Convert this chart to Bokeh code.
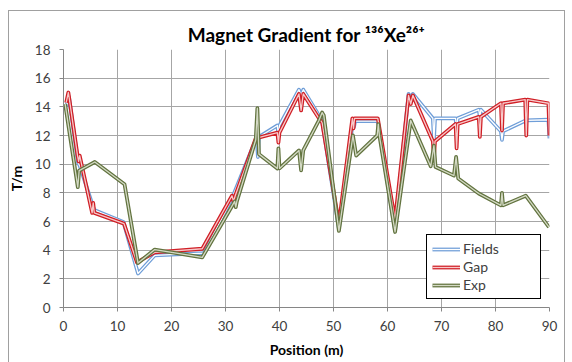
from bokeh.plotting import figure
from bokeh.models import Range1d, FixedTicker, Legend, LegendItem, InlineStyleSheet
from bokeh.embed import file_html
from bokeh.resources import INLINE

# ---- data ----
fields_x = [0.5, 1.0, 2.7, 3.0, 5.5, 5.7, 11.1, 13.8, 16.9, 26.0, 31.2, 35.8, 36.0, 36.2,
            39.6, 39.8, 40.0, 43.6, 44.0, 44.4, 47.3, 47.9, 51.0, 53.6, 53.8, 54.0, 58.2,
            61.4, 63.9, 64.3, 64.7, 68.4, 68.6, 68.8, 72.6, 72.8, 73.0, 76.9, 77.1, 77.3,
            81.0, 81.2, 81.4, 85.6, 89.8, 90.0]
fields_y = [14.0, 14.7, 10.1, 9.9, 7.0, 6.8, 5.97, 2.37, 3.64, 3.8, 7.6, 11.9, 10.5, 11.9,
            12.7, 12.0, 12.7, 15.2, 14.8, 15.2, 13.4, 13.0, 5.5, 13.0, 12.6, 13.0, 13.0,
            5.4, 14.9, 14.6, 14.9, 13.2, 11.7, 13.2, 13.2, 12.4, 13.2, 13.8, 13.3, 13.8,
            12.3, 11.7, 12.3, 13.05, 13.1, 11.8]

gap_x = [0.5, 0.9, 1.1, 2.6, 2.8, 3.0, 5.3, 5.5, 5.7, 11.2, 13.6, 16.9, 25.7, 31.2, 31.5,
         31.8, 35.6, 39.6, 39.8, 40.0, 43.6, 44.0, 44.4, 47.3, 47.9, 51.0, 53.5, 53.7,
         53.9, 58.2, 61.4, 63.9, 64.3, 64.7, 68.4, 68.6, 68.8, 72.6, 72.8, 73.0, 76.9,
         77.1, 77.3, 81.0, 81.2, 81.4, 85.5, 85.7, 85.9, 89.8, 90.0]
gap_y = [14.3, 15.0, 14.5, 10.6, 10.2, 10.6, 6.6, 7.3, 6.6, 5.85, 3.15, 3.85, 4.1, 7.8, 7.4,
         7.8, 11.8, 12.2, 11.5, 12.2, 14.9, 13.75, 14.9, 13.2, 12.9, 5.85, 13.2, 12.5,
         13.2, 13.2, 6.1, 14.8, 14.2, 14.8, 11.6, 10.5, 11.6, 12.8, 11.1, 12.8, 13.3,
         11.9, 13.3, 14.25, 12.35, 14.25, 14.5, 12.0, 14.5, 14.25, 12.0]

exp_x = [0.3, 2.65, 2.9, 5.8, 11.3, 13.8, 16.9, 25.7, 31.7, 31.9, 32.1, 35.6, 35.9, 36.2,
         39.6, 39.8, 40.0, 43.6, 44.0, 44.4, 47.3, 47.9, 48.2, 51.0, 53.6, 54.2, 58.1,
         58.3, 58.5, 61.4, 64.3, 68.0, 68.6, 68.9, 72.3, 72.7, 73.1, 76.9, 81.0, 81.2,
         81.4, 85.6, 89.9]
exp_y = [14.2, 8.4, 9.55, 10.15, 8.6, 3.1, 4.04, 3.5, 7.4, 7.0, 7.4, 11.7, 13.9, 10.7,
         9.7, 11.1, 9.7, 10.96, 9.57, 10.96, 13.05, 13.6, 13.4, 5.34, 12.0, 10.6, 12.0,
         12.8, 12.0, 5.27, 13.05, 9.85, 11.3, 9.8, 9.2, 10.5, 9.0, 7.95, 7.13, 8.0,
         7.13, 7.8, 5.6]

x_ticks = [0, 10, 20, 30, 40, 50, 60, 70, 80, 90]
y_ticks = [0, 2, 4, 6, 8, 10, 12, 14, 16, 18]

FONT = "Lato"

p = figure(width=572, height=362, output_backend="svg", toolbar_location=None,
           x_range=Range1d(0, 90), y_range=Range1d(0, 18),
           min_border_left=63, min_border_right=23, min_border_top=49, min_border_bottom=55,
           title="Magnet Gradient for \u00b9\u00b3\u2076Xe\u00b2\u2076\u207a")
p.outline_line_color = None
p.background_fill_color = "white"
p.border_fill_color = "white"

p.title.align = "center"
p.title.text_font = FONT
p.title.text_font_size = "19px"
p.title.text_font_style = "bold"
p.title.text_color = "#000000"
p.title.standoff = 7

for ax in (p.xaxis[0], p.yaxis[0]):
    ax.axis_line_color = "#868686"
    ax.major_tick_line_color = "#868686"
    ax.major_tick_out = 4
    ax.major_tick_in = 0
    ax.minor_tick_line_color = None
    ax.major_label_text_font = FONT
    ax.major_label_text_font_size = "13.5px"
    ax.major_label_text_color = "#404040"
    ax.axis_label_text_font = FONT
    ax.axis_label_text_font_size = "14px"
    ax.axis_label_text_font_style = "bold"
    ax.axis_label_text_color = "#000000"

p.xaxis.ticker = FixedTicker(ticks=x_ticks)
p.yaxis.ticker = FixedTicker(ticks=y_ticks)
p.xaxis.axis_label = "Position (m)"
p.yaxis.axis_label = "T/m"
p.xaxis.major_label_standoff = 9
p.xaxis.axis_label_standoff = 7
p.yaxis.major_label_standoff = 9
p.yaxis.axis_label_standoff = 7

p.xgrid.ticker = FixedTicker(ticks=x_ticks)
p.ygrid.ticker = FixedTicker(ticks=y_ticks)
p.xgrid.grid_line_color = "#a6a6a6"
p.ygrid.grid_line_color = "#a6a6a6"

series = [
    ("Fields", fields_x, fields_y, "#6f9ed8", "#ffffff"),
    ("Gap", gap_x, gap_y, "#d01f26", "#f7c9ca"),
    ("Exp", exp_x, exp_y, "#637440", "#d3d9c4"),
]
items = []
for name, xs, ys, outer, inner in series:
    r1 = p.line(xs, ys, line_color=outer, line_width=3.8, line_join="round")
    r2 = p.line(xs, ys, line_color=inner, line_width=1.3, line_join="round")
    items.append(LegendItem(label=name, renderers=[r1, r2]))

legend = Legend(items=items, location="bottom_right")
legend.border_line_color = "#000000"
legend.border_line_width = 1
legend.border_line_alpha = 1
legend.background_fill_color = "white"
legend.background_fill_alpha = 1
legend.margin = 8
legend.padding = 5
legend.spacing = 1
legend.label_height = 16
legend.glyph_height = 16
legend.glyph_width = 28
legend.label_standoff = 3
legend.label_width = 72
legend.label_text_font = FONT
legend.label_text_font_size = "14px"
legend.label_text_color = "#404040"
p.add_layout(legend)

p.stylesheets = [InlineStyleSheet(css=":host::after { content: ''; position: absolute; left: 8px; top: 10px; width: 557px; height: 360px; border: 1px solid #a0a0a0; pointer-events: none; box-sizing: border-box; }")]

open("out.html", "w").write(file_html(p, INLINE))
